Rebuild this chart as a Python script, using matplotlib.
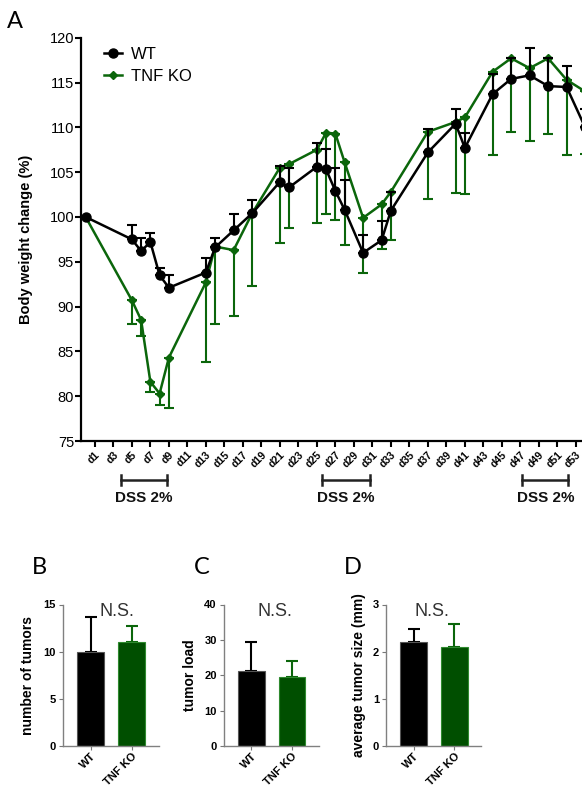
import matplotlib
matplotlib.use("Agg")
import matplotlib.pyplot as plt
import matplotlib.transforms as mtransforms
from matplotlib.lines import Line2D

plt.rcParams['font.family'] = ['Liberation Sans', 'DejaVu Sans']

# ---------------- data ----------------
days = [0, 5, 6, 7, 8, 9, 13, 14, 16, 18, 21, 22, 25, 26, 27, 28, 30, 32, 33,
        37, 40, 41, 44, 46, 48, 50, 52, 54]
wt_mean = [100, 97.5, 96.2, 97.2, 93.5, 92.1, 93.8, 96.6, 98.5, 100.4, 103.9, 103.3,
           105.6, 105.3, 102.9, 100.8, 96.0, 97.4, 100.7, 107.2, 110.4, 107.7,
           113.7, 115.4, 115.8, 114.6, 114.5, 110.0]
wt_err = [0, 1.6, 1.5, 1.0, 0.8, 1.4, 1.6, 1.1, 1.8, 1.5, 1.8, 2.2, 2.6, 2.3, 2.6,
          3.3, 2.0, 2.1, 2.1, 2.6, 1.7, 1.7, 2.3, 2.3, 3.1, 3.1, 2.3, 2.0]
ko_mean = [100, 90.7, 88.5, 81.6, 80.3, 84.3, 92.7, 96.7, 96.3, 100.4, 105.5, 105.9,
           107.5, 109.4, 109.3, 106.1, 99.9, 101.4, 102.8, 109.5, 110.6, 111.1,
           116.2, 117.7, 116.6, 117.7, 115.3, 114.0]
ko_err = [0, 2.6, 1.8, 1.1, 1.3, 5.6, 8.9, 8.7, 7.4, 8.1, 8.4, 7.1, 8.2, 9.1, 9.6,
          9.2, 6.1, 5.0, 5.4, 7.5, 7.9, 8.5, 9.3, 8.2, 8.1, 8.5, 8.4, 7.0]
tick_days = list(range(1, 54, 2))
tick_labels = [f"d{d}" for d in tick_days]
dss_periods = [(3.8, 8.8), (25.6, 30.7), (47.2, 52.2)]
dss_label = "DSS 2%"

groups = ["WT", "TNF KO"]
n_tumors = [10.0, 11.0]
n_tumors_err = [3.66, 1.7]
tumor_load = [21.3, 19.5]
tumor_load_err = [8.1, 4.6]
tumor_size = [2.20, 2.10]
tumor_size_err = [0.28, 0.48]

BLACK = "#000000"
GREEN = "#0b660b"
BAR_GREEN = "#004f00"

W, H = 582, 789
fig = plt.figure(figsize=(W / 100, H / 100), dpi=100)


def rect(l, t, r, b):
    return [l / W, 1 - b / H, (r - l) / W, (b - t) / H]


# ---------------- panel A ----------------
ax = fig.add_axes(rect(81, 37.7, 603.6, 441))
ax.errorbar(days, wt_mean, yerr=[[0] * len(wt_err), wt_err], color=BLACK,
            marker='o', markersize=6.5, linewidth=1.8, elinewidth=1.5,
            capsize=3.5, capthick=1.5, zorder=3)
ax.errorbar(days, ko_mean, yerr=[ko_err, [0] * len(ko_err)], color=GREEN,
            marker='D', markersize=4.5, linewidth=1.8, elinewidth=1.5,
            capsize=3.5, capthick=1.5, zorder=2)
ax.set_xlim(-0.5, 56)
ax.set_ylim(75, 120)
ax.set_yticks(range(75, 121, 5))
ax.tick_params(axis='y', labelsize=10.5, width=1.5, length=4, pad=1)
ax.set_xticks(tick_days)
ax.set_xticklabels(tick_labels, rotation=45, ha='right', va='top',
                   rotation_mode='anchor', fontsize=7.5, fontweight='bold')
ax.set_xticks([55], minor=True)
ax.tick_params(axis='x', which='both', width=1.5, length=4, pad=2)
for s in ['top', 'right']:
    ax.spines[s].set_visible(False)
for s in ['left', 'bottom']:
    ax.spines[s].set_linewidth(1.6)
ax.set_ylabel("Body weight change (%)", fontsize=10.5, fontweight='bold')
ax.yaxis.set_label_coords(-0.092, 0.5)
handles = [Line2D([0], [0], color=BLACK, marker='o', markersize=6.5, lw=1.8),
           Line2D([0], [0], color=GREEN, marker='D', markersize=4.5, lw=1.8)]
ax.legend(handles, ["WT", "TNF KO"], loc='upper left', bbox_to_anchor=(0.015, 1.015),
          frameon=False, fontsize=12, handlelength=1.1, handletextpad=0.5,
          labelspacing=0.45)

trans = mtransforms.blended_transform_factory(ax.transData, fig.transFigure)
for (a, b) in dss_periods:
    yb = 1 - 480 / H
    ax.plot([a, b], [yb, yb], color='#222222', lw=1.8, transform=trans, clip_on=False)
    ax.plot([a, a], [yb - 0.006, yb + 0.006], color='#222222', lw=1.8,
            transform=trans, clip_on=False)
    ax.plot([b, b], [yb - 0.006, yb + 0.006], color='#222222', lw=1.8,
            transform=trans, clip_on=False)
    ax.text((a + b) / 2, 1 - 498 / H, dss_label, transform=trans, ha='center',
            va='center', fontsize=11, fontweight='bold', color='#111111')

fig.text(15 / W, 1 - 22 / H, "A", fontsize=17, family=['Lato', 'DejaVu Sans'],
         ha='center', va='center')


# ---------------- panels B, C, D ----------------
def bar_panel(l, r, vals, errs, ymax, yticks, ylabel, lab_x, ns_x, letter, letter_x):
    bx = fig.add_axes(rect(l, 604.5, r, 746))
    xs = list(range(len(groups)))
    cols = [BLACK, BAR_GREEN]
    ecols = ['#555555', '#2f8a2f']
    errcols = [BLACK, GREEN]
    for i in xs:
        bx.bar(i, vals[i], width=0.66, color=cols[i], edgecolor=ecols[i],
               linewidth=0.8, zorder=2)
        bx.errorbar(i, vals[i], yerr=[[0], [errs[i]]], color=errcols[i],
                    elinewidth=1.5, capsize=4, capthick=1.5, zorder=1)
    bx.set_xlim(-0.68, 1.67)
    bx.set_ylim(0, ymax)
    bx.set_yticks(yticks)
    bx.set_xticks(xs)
    bx.set_xticklabels(groups, rotation=45, ha='right', va='top',
                       rotation_mode='anchor', fontsize=8, fontweight='bold')
    for t in bx.get_yticklabels():
        t.set_fontweight('bold')
    bx.tick_params(axis='y', labelsize=8, length=3, width=0.8, color='#777777', pad=2)
    bx.tick_params(axis='x', length=3, width=0.8, color='#777777', pad=1)
    for s in ['top', 'right']:
        bx.spines[s].set_visible(False)
    for s in ['left', 'bottom']:
        bx.spines[s].set_color('#808080')
        bx.spines[s].set_linewidth(1.0)
    bx.set_ylabel(ylabel, fontsize=10, fontweight='bold')
    bx.yaxis.set_label_coords((lab_x - l) / (r - l), 0.5)
    fig.text(ns_x / W, 1 - 612 / H, "N.S.", fontsize=13, color='#333333',
             ha='center', va='center')
    fig.text(letter_x / W, 1 - 567 / H, letter, fontsize=17,
             family=['Lato', 'DejaVu Sans'], ha='center', va='center')
    return bx


bar_panel(63, 159, n_tumors, n_tumors_err, 15, [0, 5, 10, 15],
          "number of tumors", 35, 117, "B", 39)
bar_panel(223.8, 319.2, tumor_load, tumor_load_err, 40, [0, 10, 20, 30, 40],
          "tumor load", 196.7, 274.7, "C", 202)
bar_panel(386, 481.4, tumor_size, tumor_size_err, 3, [0, 1, 2, 3],
          "average tumor size (mm)", 365.6, 432, "D", 352.6)

fig.savefig("out.png", dpi=100)
